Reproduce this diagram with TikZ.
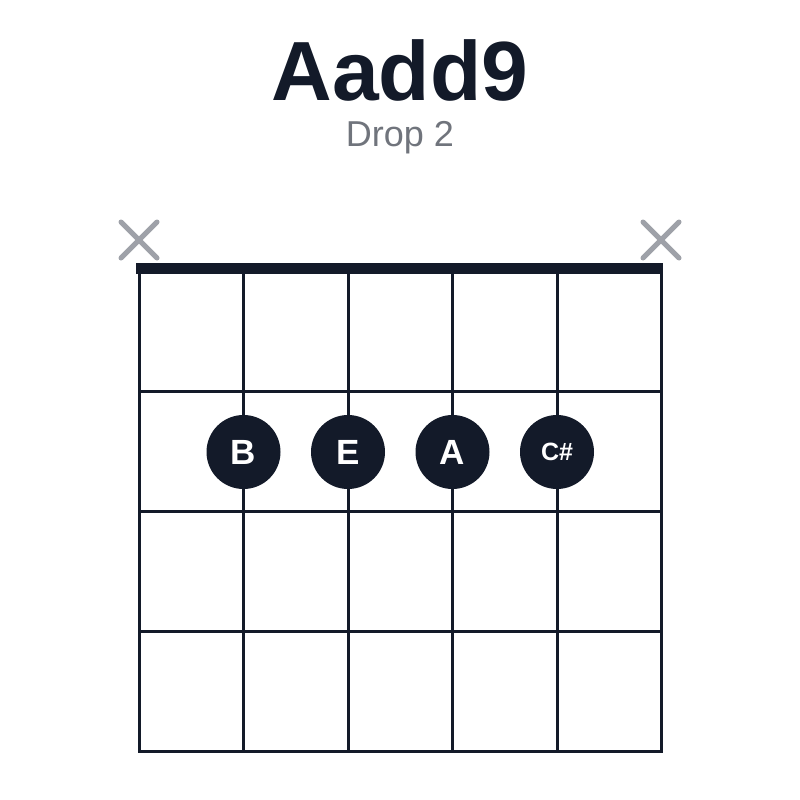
\documentclass[tikz,border=0pt]{standalone}
\usepackage{fontspec}
\setmainfont{Liberation Sans}
\definecolor{ink}{HTML}{131A29}
\definecolor{xgray}{HTML}{9EA1A8}
\definecolor{subgray}{HTML}{70747C}
\begin{document}
\begin{tikzpicture}[x=1pt,y=-1pt,
  gridline/.style={draw=ink,line width=3pt},
  nutline/.style={draw=ink,line width=11pt},
  mutemark/.style={draw=xgray,line width=5pt,line cap=round},
  fingerdot/.style={circle,fill=ink,minimum size=74pt,inner sep=0pt,text=white,font=\bfseries\fontsize{35}{35}\selectfont},
  smalldot/.style={fingerdot,font=\bfseries\fontsize{25}{25}\selectfont}]
\useasboundingbox (0,0) rectangle (800,800);
\fill[white] (0,0) rectangle (800,800);
\node[text=ink,font=\bfseries\fontsize{84}{84}\selectfont,inner sep=0pt,anchor=base] (title) at (400,100) {Aadd9};
\node[text=subgray,font=\fontsize{36}{36}\selectfont,inner sep=0pt,anchor=base] (sub) at (400,146) {Drop 2};
% strings
\foreach \i/\x in {1/139.5,2/243.5,3/348,4/452.5,5/557,6/661}{
  \coordinate (s\i t) at (\x,268);
  \coordinate (s\i b) at (\x,752);
  \draw[gridline] (s\i t) -- (s\i b);
}
% frets
\foreach \j/\y in {1/391.5,2/511.5,3/631.5,4/751}{
  \coordinate (f\j l) at (138,\y);
  \coordinate (f\j r) at (662.5,\y);
  \draw[gridline] (f\j l) -- (f\j r);
}
\coordinate (nutl) at (136,268);
\coordinate (nutr) at (663,268);
\draw[nutline] (nutl) -- (nutr);
% mutes
\foreach \n/\x in {a/139,b/661}{
  \coordinate (m\n1) at (\x-18,222);
  \coordinate (m\n2) at (\x+18,258);
  \coordinate (m\n3) at (\x-18,258);
  \coordinate (m\n4) at (\x+18,222);
  \draw[mutemark] (m\n1) -- (m\n2);
  \draw[mutemark] (m\n3) -- (m\n4);
}
\node[fingerdot] (dB) at (243.5,452) {B};
\node[fingerdot] (dE) at (348,452) {E};
\node[fingerdot] (dA) at (452.5,452) {A};
\node[smalldot] (dC) at (557,452) {C\#};
\end{tikzpicture}
\end{document}
